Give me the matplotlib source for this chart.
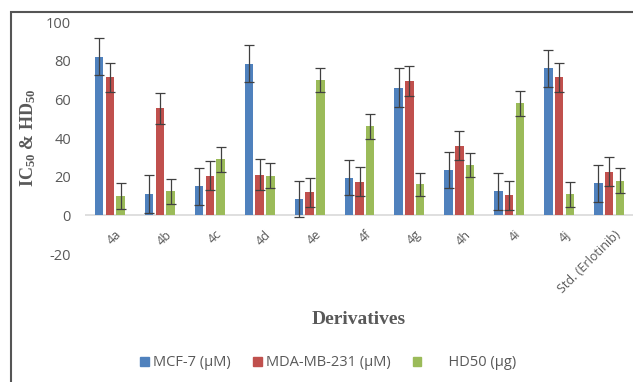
import numpy as np
import matplotlib.pyplot as plt
from matplotlib.patches import Patch, Rectangle

plt.rcParams['font.family'] = ['Open Sans', 'DejaVu Sans']
plt.rcParams['mathtext.fontset'] = 'custom'
plt.rcParams['mathtext.rm'] = 'Liberation Serif:bold'
plt.rcParams['mathtext.default'] = 'rm'
plt.rcParams['axes.unicode_minus'] = False

cats = ['4a', '4b', '4c', '4d', '4e', '4f', '4g', '4h', '4i', '4j', 'Std. (Erlotinib)']
mcf7 = [82, 11, 15, 78.5, 8.5, 19.5, 66, 23.5, 12.5, 76, 16.5]
mcf7_err = [9.5, 10, 9.5, 9.5, 9.5, 9, 10, 9.5, 9.5, 9.5, 9.5]
mda = [71.5, 55.5, 20.5, 21, 12, 17.5, 69.5, 36, 10.5, 71.5, 22.5]
mda_err = [7.5, 8, 7.5, 8, 7.5, 7.5, 8, 7.5, 7.5, 7.5, 7.5]
hd50 = [10, 12.5, 29, 20.5, 70, 46, 16, 26, 58, 11, 18]
hd50_err = [6.5, 6.5, 6.5, 6.5, 6, 6.5, 6, 6, 6.5, 6.5, 6.5]

names = ['MCF-7 (\u03bcM)', 'MDA-MB-231 (\u03bcM)', '      HD50 (\u03bcg)']
colors = ['#4F81BD', '#C0504D', '#9BBB59']
gray = '#595959'

fig = plt.figure(figsize=(6.33, 3.82), dpi=100)
ax = fig.add_axes([85 / 633, 1 - 254 / 382, 549 / 633, 232 / 382])

x = np.arange(len(cats))
w = 0.17
step = 0.215
for k, (vals, errs) in enumerate([(mcf7, mcf7_err), (mda, mda_err), (hd50, hd50_err)]):
    ax.bar(x + (k - 1) * step, vals, w, color=colors[k], zorder=2)
    ax.errorbar(x + (k - 1) * step, vals, yerr=errs, fmt='none', ecolor='#404040',
                elinewidth=0.9, capsize=3.5, capthick=0.9, zorder=3)

ax.axhline(0, color='#d9d9d9', lw=1.2, zorder=1)
ax.set_xlim(-0.5, len(cats) - 0.5)
ax.set_ylim(-20, 100)
ax.set_yticks(range(-20, 101, 20))
ax.tick_params(axis='y', length=0, pad=10, labelsize=10.5, labelcolor=gray)
ax.set_xticks([])
for s in ax.spines.values():
    s.set_visible(False)

for i, c in enumerate(cats):
    ax.text(i + 0.1, -6.5, c, rotation=45, rotation_mode='anchor', ha='right',
            va='top', fontsize=9, color=gray)

ax.set_ylabel('IC$_{50}$ & HD$_{50}$', fontsize=13, color=gray,
              family='Liberation Serif', fontweight='bold')
ax.yaxis.set_label_coords(-0.086, 0.5)
fig.text(359 / 633, 1 - 320 / 382, 'Derivatives', ha='center', va='center',
         fontsize=14, color=gray, family='Liberation Serif', fontweight='bold')

handles = [Patch(color=c) for c in colors]
fig.legend(handles, names, loc='center', bbox_to_anchor=(328 / 633, 1 - 363 / 382),
           ncol=3, frameon=False, fontsize=10.5, labelcolor=gray,
           handlelength=0.6, handleheight=0.6, handletextpad=0.3, columnspacing=1.5)

fig.patches.append(Rectangle((11 / 633, -0.2), 1.2, 1 - 12 / 382 + 0.2,
                             transform=fig.transFigure, fill=False,
                             edgecolor='#555555', lw=1.5, clip_on=False))

fig.savefig('out.png', dpi=100)
